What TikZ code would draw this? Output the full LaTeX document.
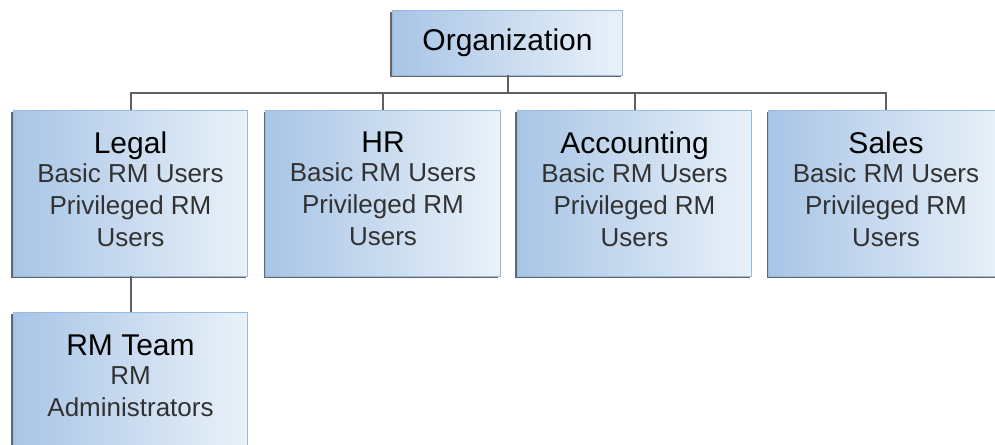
\documentclass[tikz,border=0pt]{standalone}
\usepackage{fontspec}
\setmainfont{Liberation Sans}
\usetikzlibrary{shadows}
\definecolor{boxdark}{RGB}{168,197,230}
\definecolor{boxlight}{RGB}{234,241,249}
\definecolor{boxline}{RGB}{150,186,224}
\definecolor{linkgray}{RGB}{96,96,96}
\definecolor{subtext}{RGB}{50,50,50}
\tikzset{
  unit/.style={draw=boxline, line width=0.6pt, left color=boxdark, right color=boxlight,
    drop shadow={shadow xshift=-1.4pt, shadow yshift=-1.4pt, fill=black!75, opacity=0.8},
    inner sep=0pt, align=center, text=subtext,
    font=\fontsize{19.5}{24}\selectfont},
  dept/.style={unit, minimum width=176pt, minimum height=124.5pt, text depth=6pt},
  link/.style={draw=linkgray, line width=1.5pt}
}
\newcommand{\unitname}[1]{{\color{black}\fontsize{22.5}{24}\selectfont #1}\\[-2.2pt]}
\begin{document}
\begin{tikzpicture}[x=0.75pt, y=-0.75pt]
  \useasboundingbox (0,0) rectangle (995,444);

  \node[unit, minimum width=173pt, minimum height=48.75pt] (org) at (507.5,42.5) {{\color{black}\fontsize{22.5}{24}\selectfont Organization}};

  \node[dept] (legal) at (130.5,193) {\unitname{Legal}Basic RM Users\\Privileged RM\\Users};
  \node[dept] (hr) at (383,193) {\unitname{HR}Basic RM Users\\Privileged RM\\Users};
  \node[dept] (acct) at (634.5,193) {\unitname{Accounting}Basic RM Users\\Privileged RM\\Users};
  \node[dept] (sales) at (886,193) {\unitname{Sales}Basic RM Users\\Privileged RM\\Users};

  \node[dept, anchor=north] (rmteam) at (130.5,312) {\unitname{RM Team}RM\\Administrators\\\mbox{}};

  % tree lines
  \coordinate (bus) at (507.5,93);
  \draw[link] (org.south) -- (bus);
  \foreach \d in {legal,hr,acct,sales}
    \draw[link] (bus) -| (\d.north);
  \draw[link] (legal.south) -- (rmteam.north);
\end{tikzpicture}
\end{document}
